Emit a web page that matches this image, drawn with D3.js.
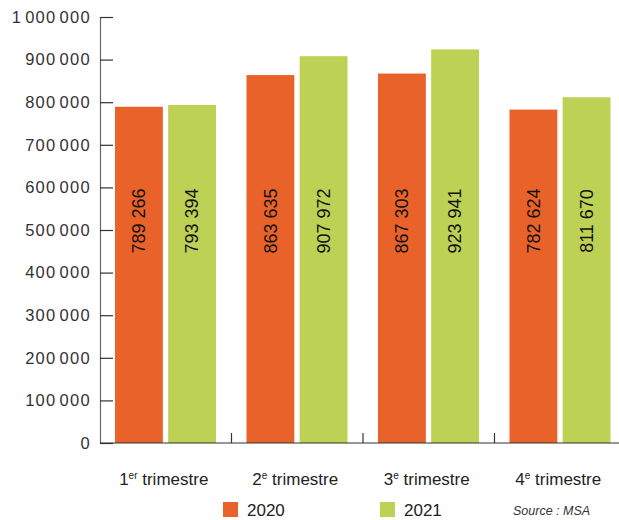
<!DOCTYPE html>
<html><head><meta charset="utf-8">
<script src="https://cdn.jsdelivr.net/npm/d3@7"></script>
<style>body{margin:0;background:#fff;}text{font-family:"Liberation Sans",Arial,sans-serif;}</style>
</head><body>
<svg id="c" width="619" height="520"></svg>
<script>
const categories = [["1", "er"], ["2", "e"], ["3", "e"], ["4", "e"]];
const series = ["2020", "2021"];
const values2020 = [789266, 863635, 867303, 782624];
const values2021 = [793394, 907972, 923941, 811670];
const yTicks = [0, 100000, 200000, 300000, 400000, 500000, 600000, 700000, 800000, 900000, 1000000];
const colors = ["#E9622A", "#BDD154"];

const svg = d3.select("#c");
const fmt = v => d3.format(",")(v).replace(/,/g, " ");
const y = d3.scaleLinear().domain([0, 1000000]).range([443, 17]);
const x0 = d3.scaleBand().domain(d3.range(categories.length)).range([100, 626]);
const x1 = d3.scaleBand().domain(series).range([15, 116]).paddingInner(0.1);
const data = [values2020, values2021];

// y axis
const ya = svg.append("g").attr("transform", "translate(100,0)")
  .call(d3.axisRight(y).tickValues(yTicks).tickSize(13).tickFormat(""));
ya.select(".domain").attr("stroke", "#666").attr("stroke-width", 1.2);
ya.selectAll(".tick line").attr("stroke", "#333").attr("stroke-width", 1.2);
svg.append("g").selectAll("text").data(yTicks).join("text")
  .attr("x", 91).attr("y", d => y(d)).attr("dy", "0.35em")
  .attr("text-anchor", "end").attr("font-size", 16.5).attr("fill", "#333")
  .attr("letter-spacing", "1.3")
  .each(function(d) {
    const parts = d3.format(",")(d).split(",");
    const t = d3.select(this);
    parts.forEach((p, i) => t.append("tspan").attr("dx", i > 0 ? 3 : 0).text(p));
  });

// bars
categories.forEach((c, i) => {
  const g = svg.append("g").attr("transform", `translate(${x0(i)},0)`);
  series.forEach((s, k) => {
    const v = data[k][i];
    g.append("rect").attr("x", x1(s)).attr("width", x1.bandwidth())
      .attr("y", y(v)).attr("height", y(0) - y(v)).attr("fill", colors[k]);
    const cx = x1(s) + x1.bandwidth() / 2;
    g.append("text").attr("transform", `translate(${cx},221) rotate(-90)`)
      .attr("text-anchor", "middle").attr("dy", "0.35em")
      .attr("font-size", 18).attr("fill", "#111").text(fmt(v));
  });
});

// x axis
svg.append("line").attr("x1", 100).attr("x2", 619).attr("y1", 443).attr("y2", 443)
  .attr("stroke", "#333").attr("stroke-width", 1.2);
d3.range(1, categories.length).forEach(i => {
  svg.append("line").attr("x1", x0(i)).attr("x2", x0(i)).attr("y1", 443).attr("y2", 433)
    .attr("stroke", "#333").attr("stroke-width", 1.2);
});
categories.forEach((c, i) => {
  const t = svg.append("text").attr("x", x0(i) + x0.bandwidth() / 2 - 2).attr("y", 485)
    .attr("text-anchor", "middle").attr("font-size", 17).attr("fill", "#222");
  t.append("tspan").text(c[0]);
  t.append("tspan").attr("dy", -6).attr("font-size", 10).text(c[1]);
  t.append("tspan").attr("dy", 6).text(" trimestre");
});

// legend
const legX = [223, 380];
series.forEach((s, k) => {
  svg.append("rect").attr("x", legX[k]).attr("y", 502).attr("width", 15).attr("height", 15).attr("fill", colors[k]);
  svg.append("text").attr("x", legX[k] + 24).attr("y", 516).attr("font-size", 17).attr("fill", "#222").text(s);
});
svg.append("text").attr("x", 513).attr("y", 515).attr("font-size", 12.5).attr("font-style", "italic")
  .attr("fill", "#333").text("Source : MSA");
</script>
</body></html>
